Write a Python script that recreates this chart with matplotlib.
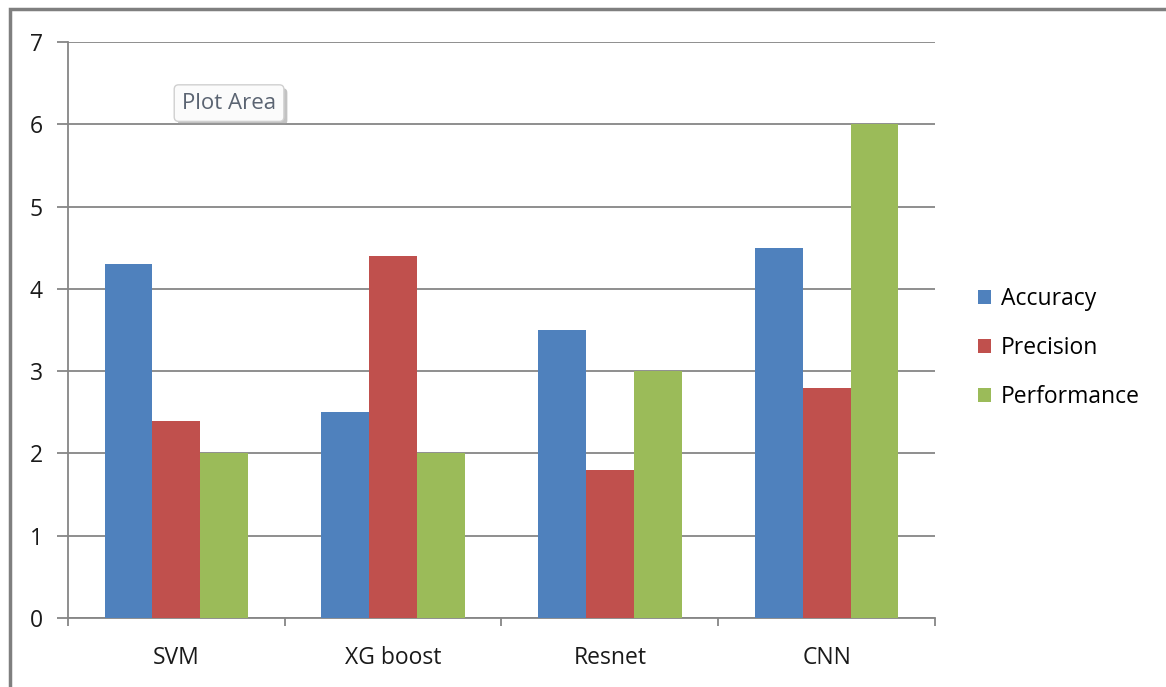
import numpy as np
import matplotlib.pyplot as plt
import matplotlib.patheffects as pe
from matplotlib.patches import Rectangle

plt.rcParams['font.family'] = ['Open Sans', 'DejaVu Sans']

# data
models = ["SVM", "XG boost", "Resnet", "CNN"]
accuracy = [4.3, 2.5, 3.5, 4.5]
precision = [2.4, 4.4, 1.8, 2.8]
performance = [2.0, 2.0, 3.0, 6.0]
series_names = ["Accuracy", "Precision", "Performance"]
colors = ["#4F81BD", "#C0504D", "#9BBB59"]

fig = plt.figure(figsize=(11.66, 6.87), dpi=100)
ax = fig.add_axes([0.0583, 0.1004, 0.7436, 0.8384])

x = np.arange(len(models))
w = 0.221
for i, (vals, name, c) in enumerate(zip([accuracy, precision, performance], series_names, colors)):
    ax.bar(x + (i - 1) * w, vals, width=w, color=c, label=name, zorder=3)

ax.set_xlim(-0.5, len(models) - 0.5)
ax.set_ylim(0, 7)
ax.set_yticks(range(0, 8))
ax.yaxis.grid(True, color="#868686", lw=1.3, zorder=0)

ax.set_xticks(x)
ax.set_xticklabels(models)
ax.set_xticks(np.arange(-0.5, len(models)), minor=True)
ax.tick_params(axis="x", which="major", length=0, pad=20, labelsize=16.5, labelcolor="#1a1a1a")
ax.tick_params(axis="x", which="minor", length=6, width=1.3, color="#868686", direction="out")
ax.tick_params(axis="y", length=8, width=1.3, color="#868686", pad=10, labelsize=16.5, labelcolor="#1a1a1a")

for s in ["top", "right"]:
    ax.spines[s].set_visible(False)
for s in ["left", "bottom"]:
    ax.spines[s].set_color("#868686")
    ax.spines[s].set_linewidth(1.3)

leg = ax.legend(loc="center left", bbox_to_anchor=(1.0496, 0.469), frameon=False,
                fontsize=16.5, handlelength=0.55, handleheight=0.55, handletextpad=0.45,
                labelspacing=1.09, borderpad=0, borderaxespad=0)

# tooltip box
t = ax.text(0.1315, 0.894, "Plot Area", transform=ax.transAxes, fontsize=16,
            color="#5b6472", ha="left", va="center",
            bbox=dict(boxstyle="round,pad=0.35,rounding_size=0.2", fc="#fbfbfb", ec="#d0d0d0", lw=1))
t.get_bbox_patch().set_path_effects([pe.withSimplePatchShadow(offset=(2.5, -2.5), shadow_rgbFace="#9a9a9a", alpha=0.6)])

# outer chart border (only top and left visible)
fig.patches.append(Rectangle((10 / 1166, -0.05), 1.2, (687 - 9) / 687 + 0.05,
                             transform=fig.transFigure, fill=False,
                             ec="#7f7f7f", lw=2.5))

fig.savefig("out.png", dpi=100)
